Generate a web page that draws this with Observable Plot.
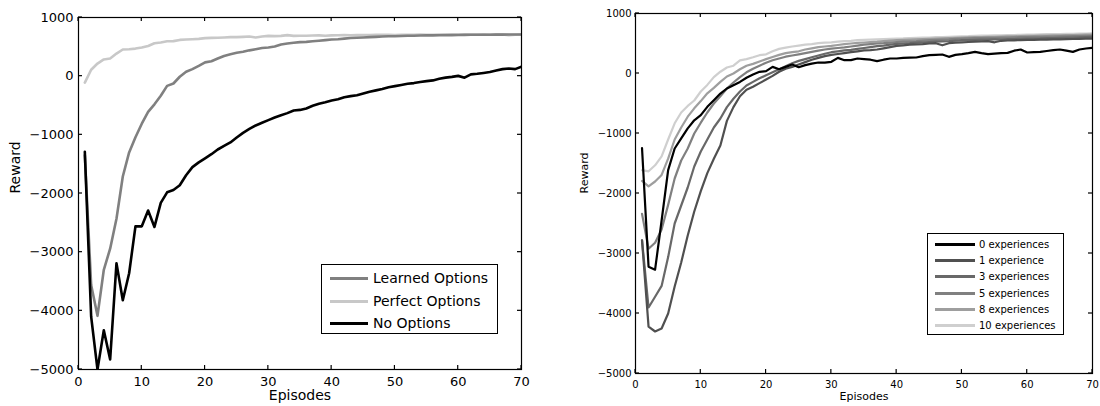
<!DOCTYPE html>
<html>
<head>
<meta charset="utf-8">
<script src="https://cdn.jsdelivr.net/npm/d3@7"></script>
<script src="https://cdn.jsdelivr.net/npm/@observablehq/plot@0.6"></script>
<style>
  html, body { margin: 0; padding: 0; background: #fff; }
  #root { position: relative; width: 1100px; height: 406px; overflow: hidden; background: #fff; font-family: "DejaVu Sans", sans-serif; }
  .panel { position: absolute; top: 0; }
  .legend { position: absolute; background: #fff; border: 1.2px solid #000; box-sizing: border-box; }
  .legend .row { position: absolute; left: 0; right: 0; height: 0; }
  .legend .sw { position: absolute; }
  .legend .tx { position: absolute; white-space: nowrap; color: #000; transform: translateY(-50%); top: 0; }
</style>
</head>
<body>
<div id="root"></div>
<script>
// ---------- Data: left panel ----------
const leftNames = ["Learned Options", "Perfect Options", "No Options"];
const leftColors = ["#808080", "#c8c8c8", "#000000"];
const learnedOptions = [-1350,-3560,-4085,-3300,-2940,-2430,-1710,-1300,-1040,-810,-610,-480,-335,-165,-125,-10,75,120,175,235,255,300,345,375,400,415,440,460,480,490,505,540,557,570,580,585,595,605,615,625,630,640,650,655,660,665,670,675,680,680,685,688,690,692,695,695,698,700,700,702,703,705,705,706,707,708,708,709,710,710];
const perfectOptions = [-110,110,215,285,300,385,455,460,470,490,515,560,575,595,597,618,625,630,636,648,653,655,659,665,666,670,676,660,676,687,682,687,699,687,688,690,692,695,690,695,698,700,697,700,702,700,705,703,705,700,703,706,705,708,705,707,708,706,708,710,708,710,709,712,710,715,712,700,705,710];
const noOptions = [-1290,-4100,-5000,-4330,-4830,-3190,-3820,-3360,-2560,-2560,-2290,-2570,-2160,-1980,-1940,-1860,-1690,-1550,-1470,-1400,-1330,-1250,-1190,-1130,-1045,-966,-900,-840,-795,-750,-705,-665,-630,-585,-575,-550,-505,-470,-445,-415,-395,-360,-340,-325,-295,-265,-242,-220,-190,-170,-150,-130,-118,-100,-85,-72,-45,-25,-12,5,-25,30,40,55,70,95,120,130,120,160];

// ---------- Data: right panel ----------
const rightNames = ["0 experiences", "1 experience", "3 experiences", "5 experiences", "8 experiences", "10 experiences"];
const rightColors = ["#000000", "#505050", "#686868", "#808080", "#9e9e9e", "#cfcfcf"];
const exp0 = [-1245,-3220,-3270,-2450,-1610,-1250,-1080,-915,-780,-695,-555,-445,-335,-250,-195,-140,-70,-15,28,40,110,72,110,150,105,140,165,183,180,195,260,222,222,250,240,230,206,230,250,250,260,265,267,290,306,312,317,278,310,322,340,361,340,322,330,340,344,380,400,350,355,361,375,390,400,380,361,400,417,428];
const exp1 = [-2780,-4220,-4300,-4250,-4000,-3550,-3150,-2700,-2300,-1960,-1660,-1420,-1200,-790,-560,-380,-270,-220,-160,-100,-40,30,80,110,150,190,230,260,290,310,325,340,355,370,385,390,400,420,440,460,470,480,485,490,500,505,470,505,515,520,525,530,535,540,520,545,550,553,556,560,560,563,565,568,570,572,575,578,580,583];
const exp3 = [-2780,-3900,-3720,-3540,-3060,-2500,-2200,-1900,-1550,-1300,-1100,-900,-750,-560,-420,-300,-200,-140,-80,-30,20,70,120,170,210,240,270,300,330,355,370,385,395,410,425,440,455,465,480,495,500,505,515,520,525,530,535,540,548,555,558,560,563,565,568,570,572,575,578,580,583,585,590,592,595,598,600,603,606,610];
const exp5 = [-2340,-2920,-2820,-2600,-2190,-1750,-1450,-1250,-1000,-820,-650,-500,-380,-250,-150,-60,20,80,130,180,220,250,280,300,320,340,360,380,400,415,425,435,450,465,480,490,500,505,515,525,530,535,540,548,555,560,565,570,578,583,585,588,590,593,595,598,600,602,605,608,610,612,615,617,620,620,622,625,627,628];
const exp8 = [-1790,-1880,-1800,-1690,-1420,-1100,-900,-720,-580,-460,-330,-240,-140,-50,0,70,130,160,200,240,275,310,340,355,370,400,420,440,450,460,475,490,500,510,517,525,530,540,548,556,560,565,570,575,578,582,586,590,595,600,602,605,608,610,612,615,618,620,623,626,628,630,632,635,637,640,642,645,648,650];
const exp10 = [-1610,-1630,-1530,-1380,-1100,-830,-650,-540,-450,-300,-190,-60,30,100,130,220,240,270,305,320,370,410,430,450,465,480,490,505,515,520,530,540,545,555,560,565,570,575,578,583,585,590,595,598,600,605,608,612,615,620,622,628,630,632,635,637,640,642,645,648,650,652,655,655,658,660,662,665,665,668];

// ---------- Axis ticks ----------
const xTickValues = [0, 10, 20, 30, 40, 50, 60, 70];
const yTickValues = [-5000, -4000, -3000, -2000, -1000, 0, 1000];
const xDomain = [0, 70];
const yDomain = [-5000, 1000];

function toRows(names, seriesList, drawOrder) {
  const rows = [];
  for (const k of drawOrder) {
    seriesList[k].forEach((v, i) => rows.push({episode: i + 1, reward: v, name: names[k]}));
  }
  return rows;
}

function panel(cfg) {
  const fmt = d3.format("d");
  const svg = Plot.plot({
    width: cfg.width, height: cfg.height,
    marginLeft: cfg.ml, marginRight: cfg.mr, marginTop: cfg.mt, marginBottom: cfg.mb,
    style: {fontFamily: "DejaVu Sans", fontSize: cfg.tickFont + "px", color: "#000", background: "#fff", overflow: "visible"},
    x: {domain: xDomain},
    y: {domain: yDomain},
    color: {domain: cfg.names, range: cfg.colors},
    marks: [
      Plot.line(cfg.rows, {x: "episode", y: "reward", z: "name", stroke: "name", strokeWidth: cfg.lineWidth, strokeLinejoin: "round", clip: true}),
      Plot.frame({stroke: "#000", strokeWidth: 1.2}),
      Plot.axisX({anchor: "bottom", ticks: xTickValues, tickSize: 0, tickPadding: cfg.xPad, tickFormat: fmt, label: null}),
      Plot.axisY({anchor: "left", ticks: yTickValues, tickSize: 0, tickPadding: cfg.yPad, tickFormat: fmt, label: null}),
      Plot.text(["Episodes"], {frameAnchor: "bottom", dy: cfg.xLabelDy, fontSize: cfg.labelFont, fill: "#000"}),
      Plot.text(["Reward"], {frameAnchor: "left", rotate: -90, dx: cfg.yLabelDx, fontSize: cfg.labelFont, fill: "#000"})
    ]
  });
  // inward tick marks on all four sides, positioned through Plot's own scales
  const sx = svg.scale("x"), sy = svg.scale("y");
  const [x0, x1] = sx.range, [y0, y1] = sy.range; // y0 bottom, y1 top
  const t = cfg.tickLen;
  const g = d3.select(svg).append("g").attr("stroke", "#000").attr("stroke-width", 1.2);
  for (const v of xTickValues) {
    const px = sx.apply(v);
    g.append("line").attr("x1", px).attr("x2", px).attr("y1", y0).attr("y2", y0 - t);
    g.append("line").attr("x1", px).attr("x2", px).attr("y1", y1).attr("y2", y1 + t);
  }
  for (const v of yTickValues) {
    const py = sy.apply(v);
    g.append("line").attr("y1", py).attr("y2", py).attr("x1", x0).attr("x2", x0 + t);
    g.append("line").attr("y1", py).attr("y2", py).attr("x1", x1).attr("x2", x1 - t);
  }
  return svg;
}

function legend(root, cfg) {
  const box = document.createElement("div");
  box.className = "legend";
  Object.assign(box.style, {left: cfg.left + "px", top: cfg.top + "px", width: cfg.w + "px", height: cfg.h + "px", fontSize: cfg.font + "px"});
  cfg.names.forEach((n, i) => {
    const row = document.createElement("div");
    row.className = "row";
    row.style.top = Math.round(cfg.first + i * cfg.step) + "px";
    const sw = document.createElement("div");
    sw.className = "sw";
    Object.assign(sw.style, {left: cfg.swLeft + "px", width: cfg.swW + "px", height: cfg.swH + "px", top: (-Math.floor(cfg.swH / 2)) + "px", background: cfg.colors[i]});
    const tx = document.createElement("div");
    tx.className = "tx";
    tx.style.left = cfg.txLeft + "px";
    tx.textContent = n;
    row.appendChild(sw); row.appendChild(tx);
    box.appendChild(row);
  });
  root.appendChild(box);
}

const root = document.getElementById("root");

// Left panel
const leftSeries = [learnedOptions, perfectOptions, noOptions];
const leftPlot = panel({
  width: 560, height: 406, ml: 78, mr: 39, mt: 17, mb: 37,
  names: leftNames, colors: leftColors,
  rows: toRows(leftNames, leftSeries, [1, 0, 2]),
  tickFont: 13, labelFont: 14, lineWidth: 2.6, xPad: 7, yPad: 5, xLabelDy: 30, yLabelDx: -63, tickLen: 4
});
const lw = document.createElement("div"); lw.className = "panel"; lw.style.left = "0px"; lw.appendChild(leftPlot); root.appendChild(lw);

// Right panel
const rightSeries = [exp0, exp1, exp3, exp5, exp8, exp10];
const rightPlot = panel({
  width: 540, height: 406, ml: 75, mr: 8, mt: 13, mb: 33,
  names: rightNames, colors: rightColors,
  rows: toRows(rightNames, rightSeries, [5, 4, 3, 2, 1, 0]),
  tickFont: 10, labelFont: 11, lineWidth: 2.2, xPad: 7, yPad: 4, xLabelDy: 26, yLabelDx: -51, tickLen: 4
});
const rw = document.createElement("div"); rw.className = "panel"; rw.style.left = "560px"; rw.appendChild(rightPlot); root.appendChild(rw);

legend(root, {left: 321, top: 264, w: 177, h: 70, font: 14, names: leftNames, colors: leftColors, first: 13, step: 22.5, swLeft: 8, swW: 38, swH: 3, txLeft: 51});
legend(root, {left: 927, top: 233, w: 137, h: 102, font: 10, names: rightNames, colors: rightColors, first: 10, step: 16.2, swLeft: 7, swW: 40, swH: 3, txLeft: 51});
</script>
</body>
</html>
